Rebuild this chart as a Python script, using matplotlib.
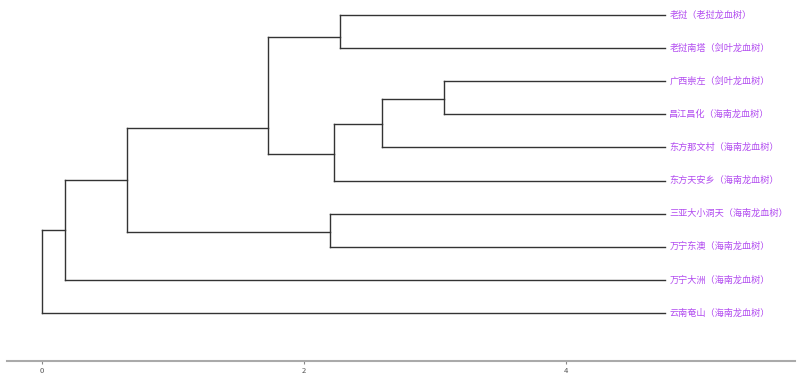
import numpy as np
import matplotlib.pyplot as plt

plt.rcParams['font.family'] = ['Noto Sans CJK SC', 'DejaVu Sans']

# 叶节点（从上到下）
leaves = ["老挝（老挝龙血树）", "老挝南塔（剑叶龙血树）", "广西崇左（剑叶龙血树）",
          "昌江昌化（海南龙血树）", "东方那文村（海南龙血树）", "东方天安乡（海南龙血树）",
          "三亚大小洞天（海南龙血树）", "万宁东澳（海南龙血树）", "万宁大洲（海南龙血树）",
          "云南奄山（海南龙血树）"]
leaf_x = 4.76

# 合并步骤：子节点编号 0-9 为叶，10 起为内部节点
merge_left = [0, 2, 11, 12, 10, 6, 14, 16, 17]
merge_right = [1, 3, 4, 5, 13, 7, 15, 8, 9]
merge_x = [2.28, 3.07, 2.60, 2.23, 1.73, 2.20, 0.65, 0.18, 0.0]
merge_y = [0.67, 2.55, 3.28, 4.21, 3.42, 6.54, 4.98, 6.50, 7.75]

n = len(leaves)
node_x = [leaf_x] * n + merge_x
node_y = list(range(n)) + merge_y

fig = plt.figure(figsize=(8, 3.76), dpi=100)
ax = fig.add_axes([7 / 800, 15 / 376, 788 / 800, 361 / 376])

line_kw = dict(color='#333333', lw=1.0, solid_capstyle='projecting')
for k in range(len(merge_x)):
    node = n + k
    a, b = merge_left[k], merge_right[k]
    x = node_x[node]
    ax.plot([x, x], [node_y[a], node_y[b]], **line_kw)
    for c in (a, b):
        ax.plot([x, node_x[c]], [node_y[c], node_y[c]], **line_kw)

for i, lab in enumerate(leaves):
    ax.text(leaf_x + 0.03, i, lab, ha='left', va='center', fontsize=6.6, color='#b24cf0')

ax.set_xlim(-0.266, 5.75)
ax.set_ylim(10.45, -0.45)
ax.set_xticks([0, 2, 4])
ax.set_yticks([])
for s in ['left', 'right', 'top']:
    ax.spines[s].set_visible(False)
ax.spines['bottom'].set_color('#aaaaaa')
ax.spines['bottom'].set_linewidth(1.5)
ax.tick_params(axis='x', length=2.5, width=0.8, color='#888888', labelsize=5.5,
               labelcolor='#555555', pad=1.5)

fig.savefig('out.png', dpi=100)
